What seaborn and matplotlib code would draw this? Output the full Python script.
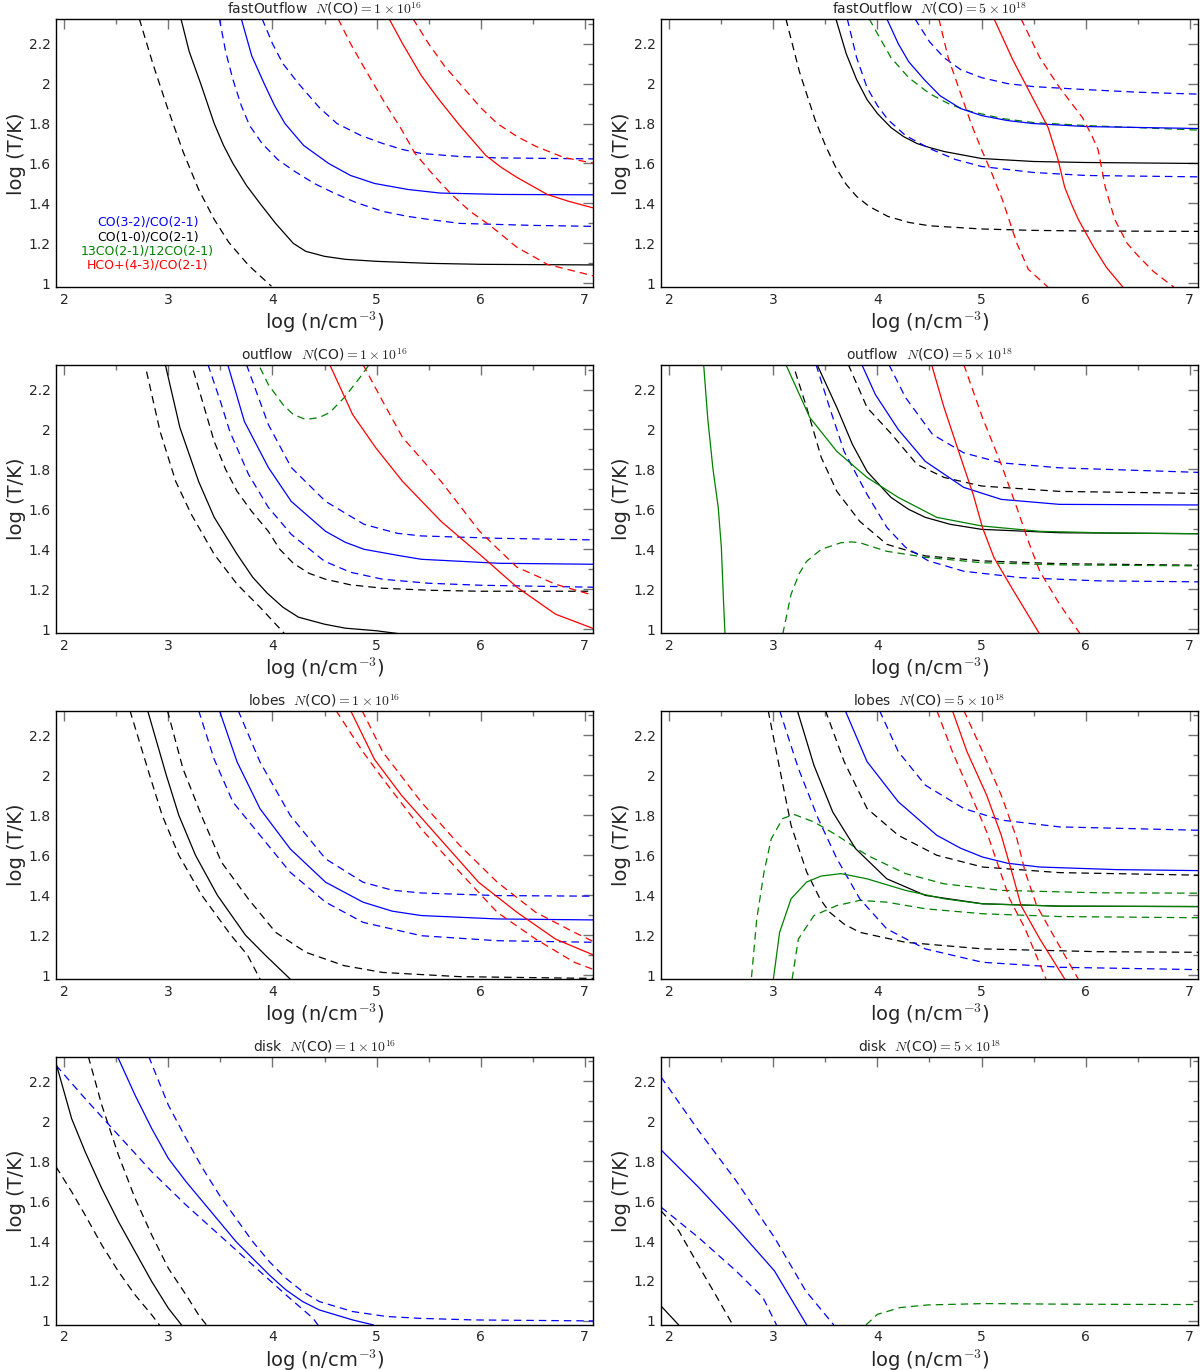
import matplotlib
matplotlib.use("Agg")
import matplotlib.pyplot as plt
import seaborn as sns
from matplotlib.ticker import MultipleLocator, FuncFormatter

# ---------------- data: x = log(n/cm^-3), y = log(T/K) ----------------
# Panel 1: fastOutflow N(CO)=1e16
P1_K_D1 = ([2.72, 2.85, 2.99, 3.14, 3.29, 3.44, 3.58, 3.77, 3.99],
           [2.325, 2.10, 1.88, 1.66, 1.47, 1.32, 1.205, 1.09, 0.985])
P1_K_S = ([3.12, 3.2, 3.31, 3.44, 3.53, 3.62, 3.75, 3.88, 4.03, 4.2, 4.32, 4.5, 4.7, 5.0, 5.5, 6.0, 7.1],
          [2.325, 2.16, 2.0, 1.8, 1.69, 1.6, 1.49, 1.40, 1.30, 1.2, 1.16, 1.135, 1.12, 1.11, 1.10, 1.095, 1.092])
P1_B_D1 = ([3.49, 3.55, 3.62, 3.70, 3.78, 3.9, 4.05, 4.2, 4.4, 4.6, 4.8, 5.06, 5.3, 5.5, 5.8, 6.5, 7.1],
           [2.325, 2.16, 2.02, 1.89, 1.79, 1.70, 1.62, 1.565, 1.50, 1.45, 1.405, 1.36, 1.335, 1.32, 1.30, 1.29, 1.285])
P1_B_S = ([3.70, 3.8, 3.92, 4.02, 4.12, 4.3, 4.54, 4.75, 4.98, 5.3, 5.61, 6.2, 7.1],
          [2.325, 2.14, 2.0, 1.89, 1.8, 1.69, 1.6, 1.54, 1.50, 1.47, 1.452, 1.445, 1.443])
P1_B_D2 = ([3.90, 4.0, 4.1, 4.25, 4.45, 4.62, 4.85, 5.06, 5.25, 5.43, 5.8, 6.16, 7.1],
           [2.325, 2.2, 2.1, 2.0, 1.88, 1.8, 1.74, 1.70, 1.67, 1.65, 1.635, 1.628, 1.623])
P1_R_D1 = ([4.63, 4.75, 4.87, 5.06, 5.24, 5.37, 5.55, 5.72, 5.9, 6.09, 6.35, 6.64, 7.1],
           [2.325, 2.2, 2.09, 1.92, 1.77, 1.65, 1.54, 1.445, 1.36, 1.29, 1.18, 1.095, 1.035])
P1_R_S = ([5.12, 5.25, 5.43, 5.6, 5.8, 5.9, 6.05, 6.2, 6.35, 6.64, 6.85, 7.1],
          [2.325, 2.2, 2.04, 1.92, 1.79, 1.73, 1.64, 1.58, 1.53, 1.445, 1.41, 1.375])
P1_R_D2 = ([5.35, 5.5, 5.65, 5.8, 6.0, 6.16, 6.35, 6.53, 6.8, 7.1],
           [2.325, 2.2, 2.09, 2.0, 1.88, 1.80, 1.735, 1.686, 1.63, 1.60])

# Panel 2: fastOutflow N(CO)=5e18
P2_K_D1 = ([3.12, 3.25, 3.4, 3.5, 3.6, 3.7, 3.8, 3.92, 4.1, 4.3, 4.5, 5.0, 5.5, 6.0, 7.1],
           [2.325, 2.06, 1.82, 1.69, 1.58, 1.495, 1.435, 1.385, 1.335, 1.305, 1.288, 1.272, 1.265, 1.262, 1.26])
P2_K_S = ([3.60, 3.7, 3.8, 3.9, 4.0, 4.13, 4.25, 4.38, 4.5, 4.64, 5.0, 5.5, 6.0, 7.1],
          [2.325, 2.15, 2.02, 1.92, 1.85, 1.78, 1.735, 1.70, 1.68, 1.66, 1.625, 1.61, 1.605, 1.60])
P2_B_D1 = ([3.71, 3.8, 3.9, 4.0, 4.1, 4.27, 4.5, 4.75, 5.0, 5.5, 6.0, 7.1],
           [2.325, 2.13, 1.98, 1.89, 1.82, 1.74, 1.675, 1.62, 1.585, 1.555, 1.54, 1.533])
P2_G_D = ([3.92, 4.0, 4.13, 4.3, 4.5, 4.7, 4.9, 5.2, 5.5, 6.0, 7.1],
          [2.325, 2.25, 2.13, 2.03, 1.95, 1.895, 1.86, 1.825, 1.805, 1.79, 1.767])
P2_B_S = ([4.09, 4.2, 4.3, 4.45, 4.6, 4.8, 5.0, 5.25, 5.5, 6.0, 7.1],
          [2.325, 2.2, 2.11, 2.02, 1.94, 1.875, 1.84, 1.815, 1.80, 1.785, 1.775])
P2_B_D2 = ([4.36, 4.5, 4.64, 4.8, 5.0, 5.25, 5.5, 6.0, 6.5, 7.1],
           [2.325, 2.21, 2.13, 2.07, 2.03, 2.0, 1.985, 1.97, 1.957, 1.947])
P2_R_D1 = ([4.59, 4.68, 4.8, 4.9, 5.0, 5.1, 5.2, 5.34, 5.45, 5.64],
           [2.325, 2.13, 1.95, 1.80, 1.67, 1.55, 1.42, 1.20, 1.07, 0.98])
P2_R_S = ([5.12, 5.3, 5.49, 5.64, 5.73, 5.80, 5.87, 5.93, 6.08, 6.2, 6.36],
          [2.325, 2.12, 1.93, 1.78, 1.63, 1.48, 1.39, 1.32, 1.18, 1.08, 0.98])
P2_R_D2 = ([5.38, 5.56, 5.75, 5.97, 6.06, 6.12, 6.19, 6.28, 6.4, 6.5, 6.65, 6.85],
           [2.325, 2.13, 1.98, 1.83, 1.74, 1.67, 1.48, 1.32, 1.20, 1.14, 1.06, 0.98])

# Panel 3: outflow N(CO)=1e16
P3_K_D1 = ([2.79, 2.92, 3.07, 3.22, 3.44, 3.66, 3.88, 4.12],
           [2.29, 1.99, 1.74, 1.575, 1.375, 1.225, 1.11, 0.975])
P3_K_S = ([2.97, 3.11, 3.29, 3.44, 3.66, 3.81, 3.95, 4.1, 4.25, 4.5, 4.7, 5.0, 5.25],
          [2.325, 2.01, 1.74, 1.56, 1.375, 1.26, 1.18, 1.11, 1.06, 1.025, 1.005, 0.992, 0.975])
P3_K_D2 = ([3.24, 3.35, 3.44, 3.55, 3.66, 3.8, 3.96, 4.07, 4.2, 4.35, 4.51, 4.75, 5.06, 5.5, 6.0, 7.1],
           [2.295, 2.10, 1.94, 1.80, 1.69, 1.59, 1.49, 1.40, 1.33, 1.28, 1.25, 1.222, 1.205, 1.195, 1.19, 1.19])
P3_B_D1 = ([3.38, 3.5, 3.59, 3.77, 3.96, 4.18, 4.5, 4.75, 5.06, 5.5, 6.0, 7.1],
           [2.325, 2.14, 1.99, 1.775, 1.61, 1.475, 1.34, 1.285, 1.25, 1.23, 1.22, 1.21])
P3_B_S = ([3.57, 3.73, 3.96, 4.18, 4.51, 4.7, 4.88, 5.2, 5.43, 6.17, 7.1],
          [2.325, 2.04, 1.81, 1.64, 1.49, 1.435, 1.40, 1.37, 1.35, 1.33, 1.325])
P3_B_D2 = ([3.75, 3.96, 4.18, 4.51, 4.88, 5.2, 5.43, 6.17, 7.1],
           [2.325, 2.025, 1.81, 1.64, 1.525, 1.48, 1.467, 1.455, 1.447])
P3_G_D = ([3.88, 3.96, 4.1, 4.2, 4.32, 4.45, 4.55, 4.69, 4.84, 4.93],
          [2.31, 2.225, 2.125, 2.075, 2.05, 2.06, 2.085, 2.16, 2.26, 2.325])
P3_R_S = ([4.55, 4.77, 4.99, 5.25, 5.62, 5.99, 6.35, 6.72, 7.1],
          [2.325, 2.075, 1.91, 1.74, 1.54, 1.375, 1.21, 1.075, 1.0])
P3_R_D = ([4.87, 5.06, 5.25, 5.62, 5.99, 6.35, 6.72, 7.1],
          [2.325, 2.14, 1.96, 1.74, 1.49, 1.31, 1.225, 1.167])

# Panel 4: outflow N(CO)=5e18
P4_G_S1 = ([2.33, 2.37, 2.42, 2.47, 2.50, 2.52, 2.535],
           [2.325, 2.05, 1.80, 1.61, 1.41, 1.15, 0.975])
P4_G_D = ([3.09, 3.17, 3.25, 3.32, 3.46, 3.65, 3.75, 3.83, 4.09, 4.46, 5.0, 5.75, 7.1],
          [0.975, 1.175, 1.28, 1.34, 1.40, 1.433, 1.437, 1.433, 1.39, 1.36, 1.333, 1.322, 1.317])
P4_K_D1 = ([3.21, 3.32, 3.46, 3.61, 3.83, 4.09, 4.46, 5.01, 5.75, 7.1],
           [2.29, 2.11, 1.86, 1.69, 1.54, 1.425, 1.367, 1.342, 1.328, 1.32])
P4_B_D1 = ([3.41, 3.54, 3.68, 3.9, 4.09, 4.27, 4.49, 4.83, 5.38, 6.12, 7.1],
           [2.325, 2.11, 1.89, 1.675, 1.51, 1.41, 1.342, 1.29, 1.258, 1.242, 1.237])
P4_G_S2 = ([3.12, 3.35, 3.61, 3.9, 4.2, 4.57, 5.0, 5.56, 6.2, 7.1],
           [2.325, 2.06, 1.89, 1.76, 1.66, 1.56, 1.517, 1.49, 1.482, 1.478])
P4_K_S = ([3.42, 3.61, 3.76, 3.9, 4.13, 4.3, 4.46, 4.7, 5.0, 5.75, 7.1],
          [2.325, 2.11, 1.925, 1.79, 1.66, 1.60, 1.56, 1.525, 1.50, 1.483, 1.478])
P4_K_D2 = ([3.72, 3.9, 4.13, 4.38, 4.64, 5.0, 5.75, 7.1],
           [2.325, 2.11, 1.98, 1.825, 1.76, 1.717, 1.69, 1.68])
P4_B_S = ([3.85, 3.98, 4.2, 4.46, 4.83, 5.19, 5.75, 7.1],
          [2.325, 2.175, 2.0, 1.84, 1.71, 1.65, 1.625, 1.622])
P4_B_D2 = ([4.11, 4.27, 4.53, 4.83, 5.19, 5.75, 7.1],
           [2.325, 2.16, 1.975, 1.883, 1.833, 1.808, 1.785])
P4_R_S = ([4.52, 4.64, 4.79, 4.92, 5.01, 5.12, 5.31, 5.56],
          [2.325, 2.11, 1.875, 1.675, 1.508, 1.358, 1.19, 0.975])
P4_R_D = ([4.83, 5.01, 5.19, 5.34, 5.45, 5.56, 5.75, 5.95],
          [2.325, 2.058, 1.825, 1.608, 1.44, 1.29, 1.125, 0.975])

# Panel 5: lobes N(CO)=1e16
P5_K_D1 = ([2.63, 2.82, 2.94, 3.10, 3.32, 3.60, 3.76, 3.88],
           [2.325, 2.0, 1.8, 1.6, 1.4, 1.2, 1.1, 0.98])
P5_K_S = ([2.80, 2.98, 3.10, 3.26, 3.47, 3.74, 3.93, 4.17],
          [2.325, 2.0, 1.8, 1.6, 1.4, 1.2, 1.1, 0.98])
P5_K_D2 = ([2.99, 3.14, 3.33, 3.51, 3.77, 4.03, 4.32, 4.69, 5.06, 5.8, 7.1],
           [2.325, 2.033, 1.783, 1.565, 1.38, 1.214, 1.114, 1.047, 1.013, 0.992, 0.983])
P5_B_D1 = ([3.29, 3.44, 3.62, 3.88, 4.17, 4.51, 4.87, 5.43, 6.16, 7.1],
           [2.325, 2.08, 1.866, 1.70, 1.515, 1.365, 1.264, 1.197, 1.172, 1.164])
P5_B_S = ([3.49, 3.66, 3.88, 4.17, 4.51, 4.87, 5.15, 5.43, 6.16, 7.1],
          [2.325, 2.067, 1.833, 1.632, 1.465, 1.365, 1.32, 1.298, 1.281, 1.276])
P5_B_D2 = ([3.67, 3.88, 4.17, 4.51, 4.87, 5.15, 5.43, 6.16, 7.1],
           [2.325, 2.067, 1.80, 1.582, 1.465, 1.425, 1.411, 1.398, 1.395])
P5_R_D1 = ([4.61, 4.87, 5.06, 5.43, 5.8, 6.16, 6.53, 6.9, 7.1],
           [2.325, 2.117, 1.983, 1.732, 1.515, 1.314, 1.18, 1.064, 1.025])
P5_R_S = ([4.75, 4.98, 5.24, 5.61, 5.98, 6.35, 6.72, 7.1],
          [2.325, 2.08, 1.90, 1.682, 1.465, 1.314, 1.18, 1.097])
P5_R_D2 = ([4.86, 5.06, 5.43, 5.8, 6.16, 6.53, 6.9, 7.1],
           [2.325, 2.117, 1.866, 1.649, 1.465, 1.314, 1.214, 1.164])

# Panel 6: lobes N(CO)=5e18
P6_G_D1 = ([2.79, 2.84, 2.91, 2.98, 3.09, 3.2, 3.39, 3.61, 3.9, 4.27, 4.64, 5.19, 6.12, 7.1],
           [0.99, 1.28, 1.516, 1.683, 1.784, 1.804, 1.767, 1.70, 1.60, 1.508, 1.457, 1.424, 1.412, 1.41])
P6_G_S = ([3.0, 3.06, 3.17, 3.32, 3.46, 3.65, 3.9, 4.27, 4.64, 5.0, 5.75, 7.1],
          [0.98, 1.214, 1.382, 1.466, 1.496, 1.508, 1.482, 1.424, 1.382, 1.357, 1.345, 1.343])
P6_G_D2 = ([3.18, 3.24, 3.39, 3.61, 3.83, 4.09, 4.46, 5.01, 5.75, 7.1],
           [0.98, 1.18, 1.298, 1.348, 1.374, 1.365, 1.332, 1.307, 1.293, 1.287])
P6_K_D1 = ([2.95, 3.06, 3.17, 3.32, 3.45, 3.54, 3.68, 3.83, 4.27, 5.01, 6.12, 7.1],
           [2.325, 2.035, 1.75, 1.516, 1.38, 1.315, 1.255, 1.214, 1.164, 1.131, 1.117, 1.114])
P6_B_D1 = ([3.06, 3.24, 3.43, 3.61, 3.83, 4.09, 4.46, 5.01, 5.75, 7.1],
           [2.325, 2.035, 1.784, 1.583, 1.382, 1.231, 1.131, 1.064, 1.039, 1.027])
P6_K_S = ([3.23, 3.39, 3.57, 3.79, 4.09, 4.46, 5.01, 5.75, 7.1],
          [2.325, 2.05, 1.817, 1.633, 1.482, 1.399, 1.357, 1.345, 1.343])
P6_K_D2 = ([3.50, 3.68, 3.9, 4.2, 4.57, 5.01, 5.75, 7.1],
           [2.325, 2.069, 1.834, 1.70, 1.60, 1.541, 1.513, 1.50])
P6_B_S = ([3.69, 3.9, 4.2, 4.57, 4.8, 5.01, 5.25, 5.56, 6.3, 7.1],
          [2.325, 2.069, 1.868, 1.70, 1.635, 1.591, 1.56, 1.541, 1.528, 1.523])
P6_B_D2 = ([4.02, 4.2, 4.46, 4.83, 5.19, 5.75, 7.1],
           [2.325, 2.119, 1.951, 1.834, 1.776, 1.742, 1.725])
P6_R_D1 = ([4.57, 4.72, 4.9, 5.05, 5.16, 5.27, 5.42, 5.62],
           [2.325, 2.119, 1.90, 1.717, 1.549, 1.382, 1.231, 0.98])
P6_R_S = ([4.72, 4.86, 5.05, 5.19, 5.31, 5.38, 5.56, 5.8],
          [2.325, 2.119, 1.90, 1.70, 1.482, 1.348, 1.181, 0.98])
P6_R_D2 = ([4.83, 5.01, 5.19, 5.34, 5.42, 5.53, 5.71, 5.93],
           [2.325, 2.119, 1.90, 1.683, 1.516, 1.348, 1.181, 0.98])

# Panel 7: disk N(CO)=1e16
P7_K_D1 = ([1.92, 2.07, 2.20, 2.36, 2.52, 2.68, 2.84, 2.92],
           [1.772, 1.647, 1.53, 1.38, 1.247, 1.13, 1.03, 0.975])
P7_K_S = ([1.92, 2.07, 2.20, 2.36, 2.52, 2.68, 2.84, 3.0, 3.13],
          [2.29, 2.013, 1.847, 1.663, 1.497, 1.347, 1.197, 1.063, 0.977])
P7_K_D2 = ([2.23, 2.36, 2.52, 2.68, 2.84, 3.0, 3.17, 3.29, 3.37],
           [2.325, 2.08, 1.83, 1.613, 1.43, 1.263, 1.13, 1.03, 0.977])
P7_B_D1 = ([1.92, 2.20, 2.52, 2.84, 3.17, 3.49, 3.81, 4.13, 4.39, 4.44],
           [2.28, 2.113, 1.93, 1.747, 1.58, 1.43, 1.28, 1.13, 1.013, 0.977])
P7_B_S = ([2.51, 2.68, 2.84, 3.0, 3.17, 3.33, 3.49, 3.65, 3.81, 3.97, 4.13, 4.29, 4.45, 4.77, 4.97],
          [2.325, 2.13, 1.963, 1.813, 1.697, 1.597, 1.497, 1.397, 1.313, 1.23, 1.155, 1.097, 1.055, 1.005, 0.98])
P7_B_D2 = ([2.81, 3.0, 3.17, 3.33, 3.49, 3.65, 3.81, 3.97, 4.13, 4.29, 4.45, 4.77, 5.10, 5.42, 5.93, 7.1],
           [2.325, 2.08, 1.913, 1.763, 1.63, 1.513, 1.397, 1.297, 1.213, 1.147, 1.097, 1.047, 1.022, 1.013, 1.005, 1.0])

# Panel 8: disk N(CO)=5e18
P8_K_S = ([1.92, 2.09], [1.075, 0.98])
P8_K_D = ([1.92, 2.09, 2.31, 2.46, 2.61], [1.552, 1.452, 1.251, 1.117, 0.98])
P8_B_D1 = ([1.92, 2.28, 2.64, 2.9, 3.03], [1.57, 1.418, 1.251, 1.117, 0.98])
P8_B_S = ([1.92, 2.28, 2.64, 3.01, 3.32], [1.857, 1.67, 1.469, 1.251, 0.98])
P8_B_D2 = ([1.92, 2.28, 2.64, 3.01, 3.31, 3.58], [2.222, 1.954, 1.703, 1.418, 1.151, 0.98])
P8_G_D = ([3.89, 4.0, 4.22, 4.48, 5.03, 5.77, 7.1], [0.98, 1.033, 1.067, 1.08, 1.087, 1.084, 1.082])

REGIONS = ["fastOutflow", "fastOutflow", "outflow", "outflow",
           "lobes", "lobes", "disk", "disk"]
COLUMNS = [r"$N$(CO)$=1\times10^{16}$", r"$N$(CO)$=5\times10^{18}$"]
LEGEND_LABELS = ["CO(3-2)/CO(2-1)", "CO(1-0)/CO(2-1)",
                 "13CO(2-1)/12CO(2-1)", "HCO+(4-3)/CO(2-1)"]
LEGEND_Y = [1.305, 1.234, 1.164, 1.092]
X_TICKS = [2, 3, 4, 5, 6, 7]
Y_TICKS = [1.0, 1.2, 1.4, 1.6, 1.8, 2.0, 2.2]

# ---------------- styling ----------------
BLUE, BLACK, GREEN, RED = "#0000ff", "#000000", "#008000", "#ff0000"
S, D = "-", (0, (6, 4))

PANELS = [
    [(P1_K_D1, BLACK, D), (P1_K_S, BLACK, S), (P1_B_D1, BLUE, D), (P1_B_S, BLUE, S),
     (P1_B_D2, BLUE, D), (P1_R_D1, RED, D), (P1_R_S, RED, S), (P1_R_D2, RED, D)],
    [(P2_K_D1, BLACK, D), (P2_K_S, BLACK, S), (P2_B_D1, BLUE, D), (P2_G_D, GREEN, D),
     (P2_B_S, BLUE, S), (P2_B_D2, BLUE, D), (P2_R_D1, RED, D), (P2_R_S, RED, S),
     (P2_R_D2, RED, D)],
    [(P3_K_D1, BLACK, D), (P3_K_S, BLACK, S), (P3_K_D2, BLACK, D), (P3_B_D1, BLUE, D),
     (P3_B_S, BLUE, S), (P3_B_D2, BLUE, D), (P3_G_D, GREEN, D), (P3_R_S, RED, S),
     (P3_R_D, RED, D)],
    [(P4_G_S1, GREEN, S), (P4_K_D1, BLACK, D), (P4_G_D, GREEN, D), (P4_B_D1, BLUE, D),
     (P4_K_S, BLACK, S), (P4_G_S2, GREEN, S), (P4_K_D2, BLACK, D), (P4_B_S, BLUE, S),
     (P4_B_D2, BLUE, D), (P4_R_S, RED, S), (P4_R_D, RED, D)],
    [(P5_K_D1, BLACK, D), (P5_K_S, BLACK, S), (P5_K_D2, BLACK, D), (P5_B_D1, BLUE, D),
     (P5_B_S, BLUE, S), (P5_B_D2, BLUE, D), (P5_R_D1, RED, D), (P5_R_S, RED, S),
     (P5_R_D2, RED, D)],
    [(P6_G_D1, GREEN, D), (P6_G_D2, GREEN, D), (P6_K_D1, BLACK, D), (P6_B_D1, BLUE, D),
     (P6_K_S, BLACK, S), (P6_G_S, GREEN, S), (P6_K_D2, BLACK, D), (P6_B_S, BLUE, S),
     (P6_B_D2, BLUE, D), (P6_R_D1, RED, D), (P6_R_S, RED, S), (P6_R_D2, RED, D)],
    [(P7_K_D1, BLACK, D), (P7_K_S, BLACK, S), (P7_K_D2, BLACK, D), (P7_B_D1, BLUE, D),
     (P7_B_S, BLUE, S), (P7_B_D2, BLUE, D)],
    [(P8_K_S, BLACK, S), (P8_K_D, BLACK, D), (P8_B_D1, BLUE, D), (P8_B_S, BLUE, S),
     (P8_B_D2, BLUE, D), (P8_G_D, GREEN, D)],
]

sns.set_style("white")
plt.rcParams["font.family"] = ["DejaVu Sans"]
plt.rcParams["mathtext.fontset"] = "cm"
plt.rcParams["axes.linewidth"] = 1.0
plt.rcParams["axes.edgecolor"] = "black"

fig, axes = plt.subplots(4, 2, figsize=(12, 13.7), dpi=100)
fig.subplots_adjust(left=0.0467, right=0.9983, top=0.9859, bottom=0.0329,
                    wspace=0.1266, hspace=0.2907)

fmt = FuncFormatter(lambda v, p: "%g" % round(v, 2))
for i, ax in enumerate(axes.flat):
    for (xs, ys), col, ls in PANELS[i]:
        sns.lineplot(x=xs, y=ys, ax=ax, color=col, linestyle=ls, linewidth=0.9,
                     sort=False, estimator=None, legend=False)
    ax.set_xlim(1.92, 7.08)
    ax.set_ylim(0.98, 2.322)
    ax.set_xticks(X_TICKS)
    ax.set_yticks(Y_TICKS)
    ax.xaxis.set_minor_locator(MultipleLocator(0.5))
    ax.yaxis.set_minor_locator(MultipleLocator(0.1))
    ax.xaxis.set_major_formatter(fmt)
    ax.yaxis.set_major_formatter(fmt)
    ax.tick_params(which="both", direction="in", top=True, right=True,
                   color="0.45", width=1.0, labelsize=10, pad=4)
    ax.tick_params(which="major", length=7)
    ax.tick_params(which="minor", length=3.5)
    for sp in ax.spines.values():
        sp.set_visible(True)
        sp.set_color("black")
        sp.set_linewidth(1.0)
    ax.set_xlabel(r"log (n/cm$^{-3}$)", fontsize=14, labelpad=2)
    ax.set_ylabel("log (T/K)", fontsize=14, labelpad=2)
    ax.set_title(REGIONS[i] + "  " + COLUMNS[i % 2], fontsize=10, pad=4)

ax0 = axes[0, 0]
for lab, yy, col in zip(LEGEND_LABELS, LEGEND_Y, [BLUE, BLACK, GREEN, RED]):
    ax0.text(2.80, yy, lab, color=col, fontsize=9, ha="center", va="center")

fig.savefig("out.png", dpi=100)
